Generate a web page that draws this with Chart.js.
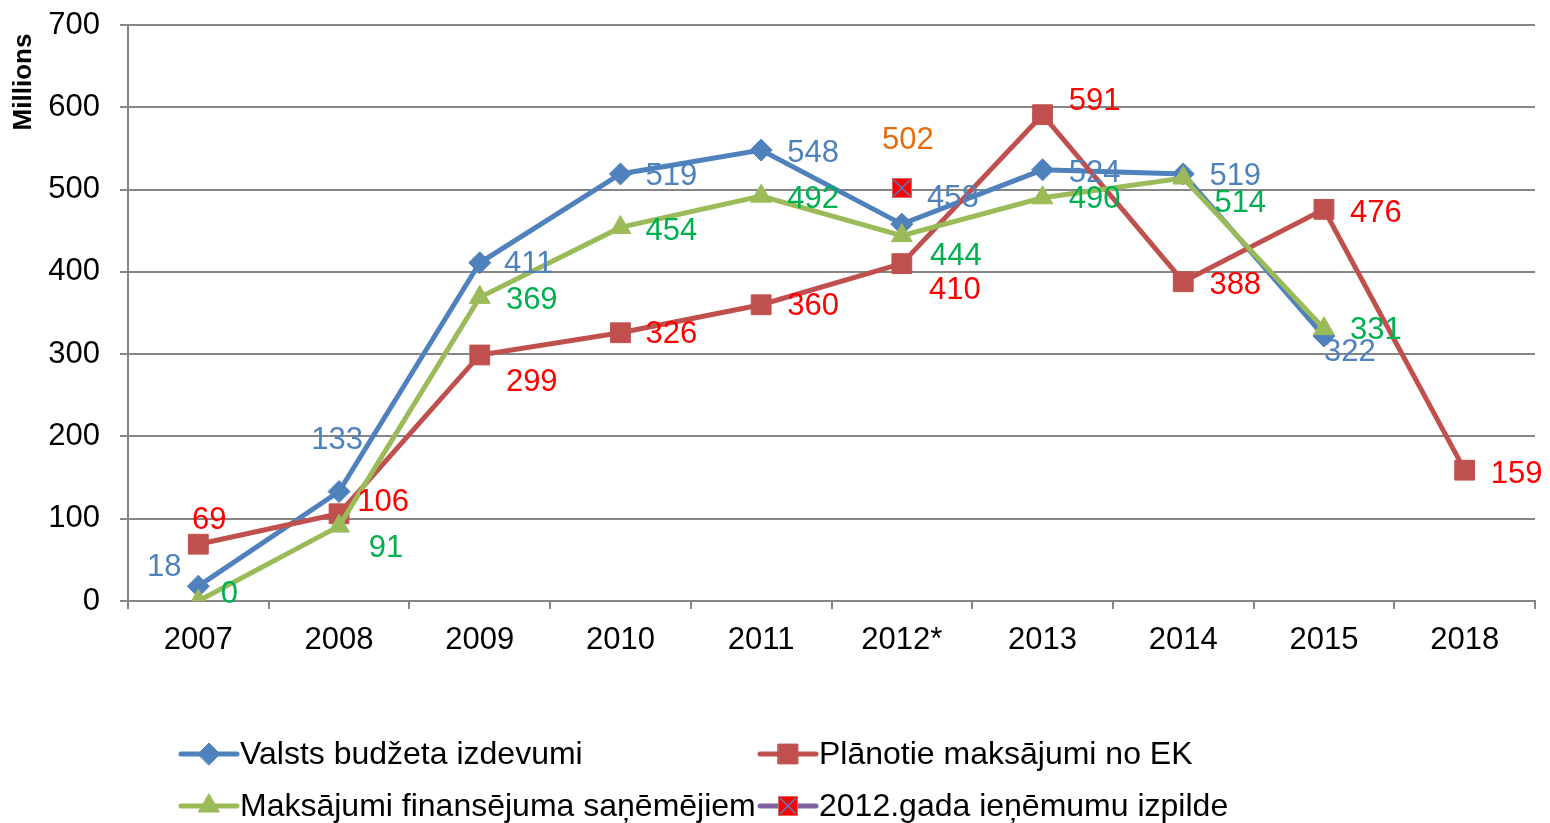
<!DOCTYPE html>
<html><head><meta charset="utf-8">
<script src="https://cdn.jsdelivr.net/npm/chart.js@4/dist/chart.umd.min.js"></script>
<style>html,body{margin:0;padding:0;background:#fff;}#wrap{position:relative;width:1550px;height:823px;}</style>
</head><body><div id="wrap"><canvas id="c" width="1550" height="823"></canvas></div>
<script>
// ---- data ----
const categories = ['2007','2008','2009','2010','2011','2012*','2013','2014','2015','2018'];
const valstsBudzetaIzdevumi = [18,133,411,519,548,458,524,519,322,null];
const planotieMaksajumi = [69,106,299,326,360,410,591,388,476,159];
const maksajumiSanemejiem = [0,91,369,454,492,444,490,514,331,null];
const ienemumuIzpilde2012 = [null,null,null,null,null,502,null,null,null,null];
const seriesNames = ['Valsts budžeta izdevumi','Plānotie maksājumi no EK','Maksājumi finansējuma saņēmējiem','2012.gada ieņēmumu izpilde'];
const yTicks = [0,100,200,300,400,500,600,700];
const yAxisTitle = 'Millions';

// ---- label offsets (style) ----
const offBlue = [[-34,-21],[-2,-53],[49,0],[51,1],[52,1],[51,-28],[52,2],[52,1],[26,14],null];
const offRed = [[11,-26],[44,-13],[52,25],[51,0],[52,0],[53,25],[52,-15],[52,2],[52,2],[52,2]];
const offGreen = [[31,-9],[47,20],[52,1],[51,2],[52,1],[54,19],[52,0],[57,23],[52,0],null];
const offOrange = [null,null,null,null,null,[6,-49],null,null,null,null];
const LABEL_DY = 2;

const FONT = '"Liberation Sans", Arial, sans-serif';

// custom marker: red square with blue X
const mk = document.createElement('canvas'); mk.width = 20; mk.height = 20;
(function(){const g=mk.getContext('2d');g.fillStyle='#FF0000';g.fillRect(0,0,20,20);
g.strokeStyle='#E06666';g.lineWidth=1;g.strokeRect(0.5,0.5,19,19);
g.strokeStyle='#4F81BD';g.lineWidth=1.5;g.beginPath();g.moveTo(2,2);g.lineTo(18,18);g.moveTo(18,2);g.lineTo(2,18);g.stroke();})();

const datasets = [
 {label:seriesNames[0],data:valstsBudzetaIzdevumi,borderColor:'#4F81BD',backgroundColor:'#4F81BD',borderWidth:5,pointStyle:'rectRot',pointRadius:11,pointBorderWidth:1,order:3,lblColor:'#4F81BD',off:offBlue},
 {label:seriesNames[1],data:planotieMaksajumi,borderColor:'#C0504D',backgroundColor:'#C0504D',borderWidth:5,pointStyle:'rect',pointRadius:14,pointBorderWidth:1,order:2,lblColor:'#FF0000',off:offRed},
 {label:seriesNames[2],data:maksajumiSanemejiem,borderColor:'#9BBB59',backgroundColor:'#9BBB59',borderWidth:5,pointStyle:'triangle',pointRadius:12,pointBorderWidth:1,order:1,lblColor:'#00B050',off:offGreen},
 {label:seriesNames[3],data:ienemumuIzpilde2012,borderColor:'#8064A2',backgroundColor:'#FF0000',borderWidth:5,pointStyle:mk,pointRadius:10,pointBorderWidth:0,order:0,lblColor:'#E46C0A',off:offOrange}
];

const labelsPlugin = {
 id:'labels',
 afterDatasetsDraw(chart){
  const ctx=chart.ctx; ctx.save();
  ctx.font='31px '+FONT; ctx.textAlign='center'; ctx.textBaseline='middle';
  chart.data.datasets.forEach((ds,i)=>{
   const meta=chart.getDatasetMeta(i);
   ds.data.forEach((v,j)=>{
    if(v==null||!ds.off[j])return;
    const p=meta.data[j];
    ctx.fillStyle=ds.lblColor;
    ctx.fillText(String(v),p.x+ds.off[j][0],p.y+ds.off[j][1]+LABEL_DY);
   });
  });
  ctx.restore();
 },
 afterDraw(chart){
  const ctx=chart.ctx; ctx.save();
  // y axis title
  ctx.font='bold 26px '+FONT; ctx.fillStyle='#000'; ctx.textAlign='center'; ctx.textBaseline='middle';
  ctx.translate(24,82); ctx.rotate(-Math.PI/2); ctx.fillText(yAxisTitle,0,0);
  ctx.restore();
  // legend
  const pos=[[181,754],[760,754],[181,806],[760,806]];
  chart.data.datasets.forEach((ds,i)=>{
   const [x,y]=pos[i];
   ctx.save();
   ctx.strokeStyle=ds.borderColor; ctx.lineWidth=5; ctx.lineCap='round';
   ctx.beginPath(); ctx.moveTo(x,y); ctx.lineTo(x+56,y); ctx.stroke();
   ctx.fillStyle=ds.backgroundColor; ctx.strokeStyle=ds.backgroundColor; ctx.lineWidth=1;
   Chart.helpers.drawPoint(ctx,{pointStyle:ds.pointStyle,radius:ds.pointRadius,rotation:0,borderWidth:ds.pointBorderWidth},x+28,y);
   ctx.fillStyle='#000'; ctx.font='32px '+FONT; ctx.textAlign='left'; ctx.textBaseline='middle';
   ctx.fillText(ds.label,x+59,y+1);
   ctx.restore();
  });
 }
};

new Chart(document.getElementById('c'),{
 type:'line',
 data:{labels:categories,datasets:datasets},
 options:{
  responsive:false,animation:false,devicePixelRatio:1,
  layout:{padding:{left:0,right:10,top:25,bottom:0}},
  plugins:{legend:{display:false},tooltip:{enabled:false}},
  scales:{
   x:{offset:true,
      grid:{offset:true,drawOnChartArea:false,drawTicks:true,tickLength:8,color:'#868686',lineWidth:2},
      border:{display:true,color:'#868686',width:2},
      ticks:{font:{family:FONT,size:31},color:'#000',padding:13,maxRotation:0,autoSkip:false},
      afterFit(s){s.height=222;s.paddingLeft=0;s.paddingRight=0;}},
   y:{min:0,max:700,
      afterBuildTicks(s){s.ticks=yTicks.map(v=>({value:v}));},
      grid:{color:'#868686',lineWidth:2,drawTicks:true,tickLength:8},
      border:{display:true,color:'#868686',width:2},
      ticks:{font:{family:FONT,size:31},color:'#000',padding:20},
      afterFit(s){s.width=128;s.paddingTop=0;s.paddingBottom=0;}}
  }
 },
 plugins:[labelsPlugin]
});
</script></body></html>
